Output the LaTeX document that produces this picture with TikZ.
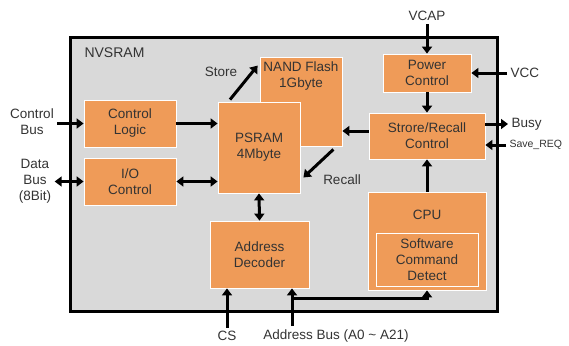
\documentclass[tikz,border=0pt]{standalone}
\usepackage{fontspec}
\setmainfont{Liberation Sans}
\usepackage{xcolor}
\usepackage{tikz}
\usetikzlibrary{positioning, arrows.meta}
\definecolor{blockorange}{RGB}{239,155,88}
\definecolor{chipgray}{RGB}{217,217,217}
\tikzset{
  blk/.style={fill=blockorange, draw=white, line width=0.8pt, align=center, inner sep=0pt},
  bus/.style={line width=3pt, -{Triangle[width=10pt,length=7pt]}},
  dbus/.style={line width=3pt, {Triangle[width=10pt,length=7pt]}-{Triangle[width=10pt,length=7pt]}},
}

\begin{document}
\begin{tikzpicture}[x=1pt, y=-1pt, text=black!80, font=\fontsize{13.5}{16}\selectfont]
  \useasboundingbox (0,0) rectangle (569,345);
  \draw[fill=chipgray, line width=3pt] (70,38) rectangle (497,311);
  \node[anchor=west, font=\fontsize{14}{16}\selectfont] (chip) at (81,53) {NVSRAM};

  \node[blk, minimum width=92pt, minimum height=47pt] (ctrl) at (130,123.5) {Control\\Logic};
  \node[blk, minimum width=92pt, minimum height=47pt] (io) at (130,181.5) {I/O\\Control};
  \node[blk, minimum width=82pt, minimum height=89pt,
        label={[anchor=north, align=center, yshift=-2pt, text=black!80]north:NAND Flash\\1Gbyte}] (nand) at (301,101.5) {};
  \node[blk, minimum width=82pt, minimum height=91pt] (psram) at (259,147.5) {PSRAM\\4Mbyte};
  \node[blk, minimum width=88pt, minimum height=38pt] (power) at (427,73) {Power\\Control};
  \node[blk, minimum width=116pt, minimum height=46pt] (store) at (427,136) {Strore/Recall\\Control};
  \node[blk, minimum width=118pt, minimum height=98pt] (cpu) at (427,241) {};
  \node (cpulbl) at (427,215) {CPU};
  \node[blk, minimum width=102pt, minimum height=53pt] (detect) at (427,259.5) {Software\\Command\\Detect};
  \node[blk, minimum width=99pt, minimum height=67pt] (dec) at (259.5,254.5) {Address\\Decoder};

  \node[align=center] (cbus) at (32,122) {Control\\Bus};
  \node[align=center] (dbus) at (35,181) {Data\\Bus\\(8Bit)};
  \node (vcap) at (427,16) {VCAP};
  \node[anchor=west] (vcc) at (507,73) {VCC};
  \node[anchor=west] (busy) at (508,124) {Busy};
  \node[anchor=west, font=\fontsize{10.5}{12}\selectfont] (savereq) at (506,145) {Save\_REQ};
  \node (cs) at (227,336) {CS};
  \node (abus) at (336,336) {Address Bus (A0 \textasciitilde\ A21)};
  \node (storelbl) at (221,72) {Store};
  \node (recalllbl) at (342,180) {Recall};
  \coordinate (abusend) at ([xshift=-44pt]abus.north);

  \draw[bus] (cbus.east |- ctrl.west) -- (ctrl.west);
  \draw[dbus] (dbus.east |- io.west) -- (io.west);
  \draw[bus] (ctrl.east) -- (ctrl.east -| psram.west);
  \draw[dbus] (io.east) -- (io.east -| psram.west);
  \draw[dbus] (psram.south) -- (dec.north);
  \draw[bus] ([xshift=-29pt,yshift=2pt]psram.north) -- ([yshift=-9pt,xshift=-2pt]nand.north west);
  \draw[bus] ([xshift=-9pt,yshift=-3pt]nand.south east) -- ([xshift=3pt,yshift=-30pt]psram.east);
  \draw[bus] (vcap) -- (power.north);
  \draw[bus] (vcc.west) -- (vcc.west -| power.east);
  \draw[bus] (power.south) -- (store.north);
  \draw[bus] ([yshift=5pt]store.west) -- ([yshift=5pt]store.west -| nand.east);
  \draw[bus] ([yshift=12pt]store.east) -- ([yshift=12pt]store.east -| busy.west);
  \draw[bus] (savereq.west) -- (savereq.west -| store.east);
  \draw[bus] (cpu.north) -- (store.south);
  \draw[bus] (cs.north) -- (cs.north |- dec.south);
  \draw[bus] (abusend) -- (abusend |- dec.south);
  \draw[bus] ([yshift=28pt]abusend) -| (cpu.south);
\end{tikzpicture}
\end{document}
